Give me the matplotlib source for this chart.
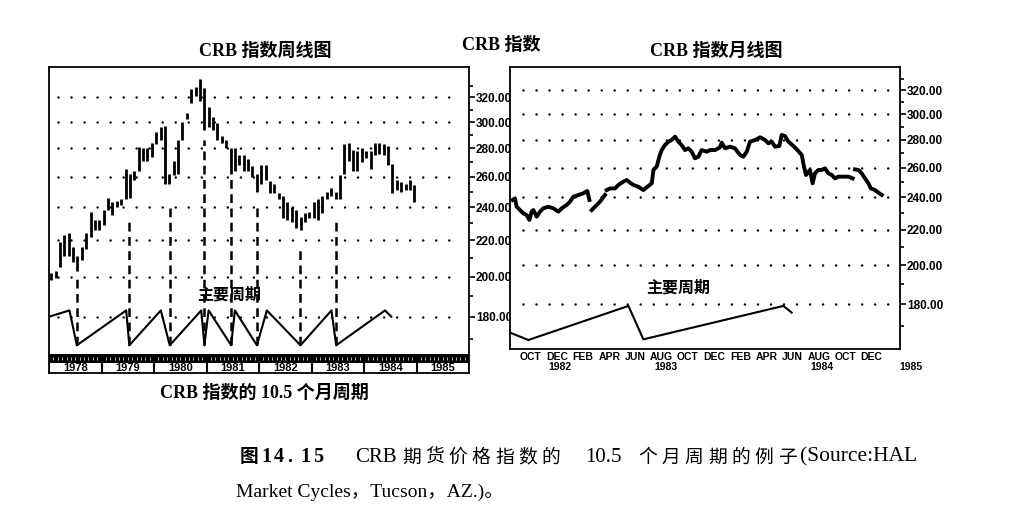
"""
CRB index: weekly and monthly charts with the 10.5 month cycle
"""

import numpy as np
import matplotlib.pyplot as plt
from matplotlib.ticker import NullFormatter

plt.rcParams["font.family"] = ["Liberation Serif", "Noto Sans CJK SC"]
plt.rcParams["axes.linewidth"] = 1.3

# ----------------------------------------------------
# Data
# ----------------------------------------------------

# weekly chart, one high/low bar per month from Jan 1978
week_high = [202, 203, 219, 223, 224, 216, 211, 216, 224, 237, 232, 232,
             238, 246, 243, 244, 245, 265, 262, 264, 281, 280, 280, 284,
             292, 296, 297, 262, 271, 286, 300, 307, 327, 329, 336, 328,
             312, 304, 299, 289, 286, 280, 280, 275, 275, 272, 267, 262,
             268, 268, 257, 255, 249, 247, 243, 240, 238, 234, 236, 237,
             243, 245, 247, 250, 252, 250, 261, 283, 284, 279, 278, 280,
             278, 278, 284, 284, 283, 282, 269, 258, 256, 255, 258, 254]
week_low = [198, 199, 205, 211, 211, 208, 203, 209, 215, 222, 226, 226,
            229, 238, 235, 240, 241, 245, 246, 258, 264, 271, 271, 274,
            283, 286, 255, 255, 261, 262, 286, 302, 315, 321, 317, 294,
            296, 294, 286, 284, 280, 262, 264, 268, 264, 264, 260, 250,
            255, 258, 249, 249, 245, 233, 232, 231, 227, 226, 231, 233,
            233, 232, 236, 245, 247, 245, 245, 262, 271, 264, 264, 270,
            273, 265, 275, 276, 275, 268, 249, 251, 250, 251, 251, 243]
week_start = 1978.0

# main cycle (saw line) on the weekly chart
week_cycle_x = [1978.0, 1978.39, 1978.53, 1979.47, 1979.53, 1980.13, 1980.30,
                1980.90, 1980.96, 1981.04, 1981.47, 1981.54, 1981.96, 1982.15,
                1982.79, 1983.38, 1983.47, 1984.40, 1984.52]
week_cycle_y = [180, 183, 167, 183, 167, 183, 167, 183, 167, 183, 167, 183,
                167, 183, 167, 183, 167, 183, 180]

# dashed lines from each cycle low up to the price low
cycle_low_x = [1978.53, 1979.53, 1980.30, 1980.96, 1981.47, 1981.96,
               1982.79, 1983.47]
cycle_low_top = [200, 234, 242, 286, 260, 242, 216, 234]

# monthly chart, time in months since Jan 1982 (None = gap in the line)
month_t = [8.12, 8.30, 8.43, 8.68, 8.93, 9.19, 9.40, 9.57, 9.70, 9.96,
           10.21, 10.46, 10.85, 11.22, 11.61, 11.87, 12.25, 12.50, 12.76,
           13.14, 13.52, 13.82, 13.98, 14.07, 14.16, 14.41, 14.79, 15.17,
           15.23, 15.30, 15.56, 15.94, 16.19, 16.57, 16.83, 17.08, 17.34,
           17.72, 18.10, 18.48, 18.74, 18.87, 19.12, 19.32, 19.50, 19.75,
           20.01, 20.26, 20.52, 20.77, 21.02, 21.28, 21.53, 21.79, 22.04,
           22.30, 22.55, 22.93, 23.19, 23.57, 23.95, 24.08, 24.33, 24.71,
           25.09, 25.48, 25.73, 25.99, 26.24, 26.63, 27.01, 27.39, 27.64,
           27.90, 28.15, 28.48, 28.66, 28.91, 29.17, 29.55, 29.86, 30.19,
           30.36, 30.52, 30.82, 31.02, 31.20, 31.46, 31.71, 31.97, 32.22,
           32.48, 32.73, 32.98, 33.37, 33.75, 34.08, 34.17, 34.26, 34.51,
           34.77, 35.02, 35.28, 35.46, 35.79, 36.04, 36.30]
month_v = [238.3, 239.3, 234.0, 231.9, 229.9, 228.8, 225.8, 230.9, 231.9,
           227.8, 230.9, 233.0, 234.0, 233.0, 230.9, 233.0, 235.1, 237.2,
           240.4, 241.5, 242.6, 244.1, 238.3, None, 231.9, 234.0, 237.2,
           241.5, None, 244.7, 245.8, 245.8, 248.1, 250.3, 251.4, 249.6,
           248.1, 246.9, 244.7, 247.4, 249.2, 258.3, 260.6, 267.7, 272.5,
           276.2, 278.7, 280.0, 282.5, 278.7, 276.2, 272.5, 273.8, 271.3,
           266.5, 267.7, 272.5, 271.3, 272.5, 272.5, 274.5, 278.0, 273.8,
           275.0, 273.8, 268.9, 267.7, 271.3, 278.7, 280.0, 282.0, 280.0,
           277.5, 278.7, 275.0, 275.5, 283.8, 283.0, 278.7, 275.5, 272.5,
           268.9, 260.6, 254.8, 258.3, 249.2, 256.0, 258.3, 258.3, 259.4,
           256.0, 254.8, 252.5, 253.7, 253.7, 253.7, 252.5, None, 258.7,
           258.3, 256.0, 252.5, 249.2, 245.8, 244.7, 243.0, 241.5]

month_cycle_t = [7.92, 9.32, 16.96, 18.10, 28.79, 29.42]
month_cycle_v = [166.8, 163.5, 179.2, 163.8, 179.2, 176.0]

month_names = ["OCT", "DEC", "FEB", "APR", "JUN", "AUG", "OCT",
               "DEC", "FEB", "APR", "JUN", "AUG", "OCT", "DEC"]
month_first = 9.5
year_names = ["1982", "1983", "1984", "1985"]
year_pos = [11.7, 19.8, 31.7, 38.5]

band_years = ["1978", "1979", "1980", "1981", "1982", "1983", "1984", "1985"]

levels = [180, 200, 220, 240, 260, 280, 300, 320]
minor_levels = [170, 190, 210, 230, 250, 270, 290, 310, 330]

# ----------------------------------------------------
# Figure / helpers
# ----------------------------------------------------

W, H = 1018, 530
fig = plt.figure(figsize=(W / 100, H / 100), dpi=100)


def px_rect(x0, y0, x1, y1):
    return [x0 / W, 1 - y1 / H, (x1 - x0) / W, (y1 - y0) / H]


def ftext(px, py, s, **kw):
    kw.setdefault("va", "center")
    return fig.text(px / W, 1 - py / H, s, **kw)


def spaced(px, py, s, pitch, **kw):
    for i, ch in enumerate(s):
        ftext(px + i * pitch, py, ch, **kw)


def price_axis(ax, lo, hi):
    ax.set_yscale("log")
    ax.set_ylim(lo, hi)
    ax.set_yticks(levels, labels=[f"{v:.2f}" for v in levels],
                  fontsize=8.5, fontweight="bold",
                  fontfamily="Liberation Sans")
    ax.set_yticks(minor_levels, minor=True)
    ax.yaxis.set_minor_formatter(NullFormatter())
    ax.yaxis.tick_right()
    ax.tick_params(axis="y", which="major", direction="out",
                   length=4, width=1.2, pad=1)
    ax.tick_params(axis="y", which="minor", direction="out",
                   length=3, width=1.2)


def dot_rows(ax, x0, x1):
    for v in levels:
        ax.plot([x0, x1], [v, v], color="black", lw=1.8,
                linestyle=(0, (0.01, 5.2)), dash_capstyle="round")


# ----------------------------------------------------
# Weekly chart
# ----------------------------------------------------

ax_w = fig.add_axes(px_rect(49, 67, 469, 355))
ax_w.set_xlim(1978, 1986)
ax_w.set_xticks([])
price_axis(ax_w, 162.8, 346.6)
dot_rows(ax_w, 1978.17, 1985.76)

week_x = week_start + (np.arange(len(week_high)) + 0.5) / 12
ax_w.vlines(week_x, week_low, week_high, color="black", lw=2.0)

ax_w.plot(week_cycle_x, week_cycle_y, color="black", lw=1.5)
ax_w.vlines(cycle_low_x, 167, cycle_low_top, color="black", lw=1.8,
            linestyles=(0, (3.5, 2.2)))

# year band under the weekly chart
ax_b = fig.add_axes(px_rect(49, 355, 469, 373))
ax_b.set_xlim(1978, 1986)
ax_b.set_ylim(0, 1)
ax_b.set_xticks([])
ax_b.set_yticks([])
ax_b.fill_between([1978, 1986], 0.58, 1.0, color="black", lw=0)
ax_b.vlines(week_start + np.arange(97) / 12, 0.7, 0.9,
            color="white", lw=0.5)
ax_b.vlines(np.arange(1978, 1987), 0, 1, color="black", lw=1.5)
for i, lab in enumerate(band_years):
    ax_b.text(1978.5 + i, 0.27, lab, ha="center", va="center",
              fontsize=8, fontweight="bold", fontfamily="Liberation Sans")

# ----------------------------------------------------
# Monthly chart
# ----------------------------------------------------

ax_m = fig.add_axes(px_rect(510, 67, 900, 349))
ax_m.set_xlim(7.92, 37.69)
price_axis(ax_m, 159.6, 340.7)
dot_rows(ax_m, 8.91, 37.16)

month_pos = month_first + 2 * np.arange(len(month_names))
ax_m.set_xticks(month_pos, labels=month_names, fontsize=7.5,
                fontweight="bold", fontfamily="Liberation Sans")
ax_m.tick_params(axis="x", length=0, pad=2)
for lab, pos in zip(year_names, year_pos):
    ax_m.text(pos, -0.064, lab, transform=ax_m.get_xaxis_transform(),
              ha="center", va="center", fontsize=7.5, fontweight="bold",
              fontfamily="Liberation Sans", clip_on=False)

ax_m.plot(month_t, np.array(month_v, dtype=float), color="black", lw=2.8)
ax_m.plot(month_cycle_t, month_cycle_v, color="black", lw=1.5)

# ----------------------------------------------------
# Titles and captions
# ----------------------------------------------------

ftext(265, 51, "CRB 指数周线图", ha="center", fontsize=13, fontweight="bold")
ftext(501, 45, "CRB 指数", ha="center", fontsize=13, fontweight="bold")
ftext(716, 51, "CRB 指数月线图", ha="center", fontsize=13, fontweight="bold")

ftext(229, 295, "主要周期", ha="center", fontsize=11.5, fontweight="bold",
      fontfamily="Noto Sans CJK SC")
ftext(678, 288, "主要周期", ha="center", fontsize=11.5, fontweight="bold",
      fontfamily="Noto Sans CJK SC")

ftext(264, 393, "CRB 指数的 10.5 个月周期", ha="center", fontsize=13,
      fontweight="bold")

cap_y1, cap_y2 = 457, 492
ftext(240, cap_y1, "图", fontsize=13.5, fontweight="bold",
      fontfamily="Noto Sans CJK SC")
spaced(261, cap_y1, "14.15", 13.0, fontsize=14.5, fontweight="bold")
ftext(355, cap_y1, "CRB", fontsize=15)
spaced(402, cap_y1, "期货价格指数的", 23.3, fontsize=13.5,
       fontfamily="Noto Sans CJK SC")
ftext(585, cap_y1, "10.5", fontsize=15)
spaced(638, cap_y1, "个月周期的例子", 23.3, fontsize=13.5,
       fontfamily="Noto Sans CJK SC")
ftext(800, cap_y1, "(Source:HAL", fontsize=15.5)
ftext(236, cap_y2, "Market Cycles，Tucson，AZ.)。", fontsize=14)

fig.savefig("out.png", dpi=100)
